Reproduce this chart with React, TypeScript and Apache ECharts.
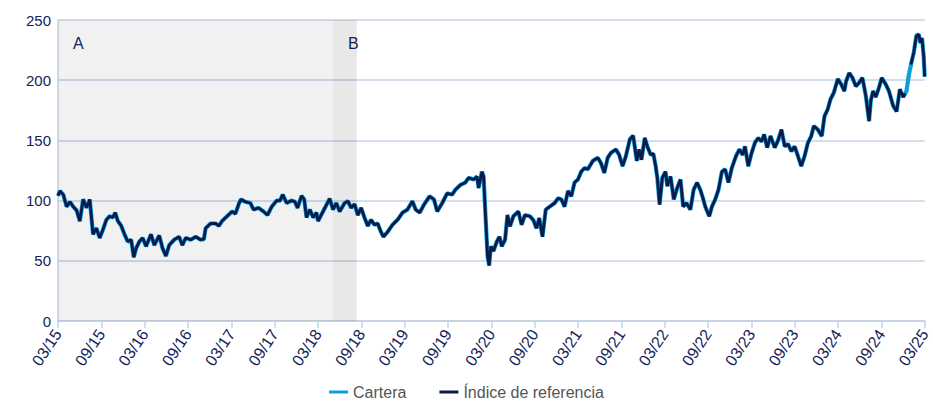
import React, { useEffect, useRef } from "react";
import * as echarts from "echarts";

// Months elapsed since March 2015
const months = [
  0.0, 0.27, 0.73, 1.2, 1.65, 2.1, 2.57, 3.02, 3.48, 3.95, 4.4, 4.71, 4.85, 5.32, 5.77, 6.23, 6.69, 7.15, 7.6, 7.93,
  8.29, 8.76, 9.21, 9.66, 10.13, 10.49, 10.82, 11.27, 11.73, 12.19, 12.88, 13.33, 14.02, 14.47, 14.94, 15.4, 16.08, 16.77, 17.22, 17.69,
  18.38, 19.07, 19.75, 20.2, 20.44, 21.13, 21.81, 22.27, 22.72, 23.41, 24.1, 24.56, 25.02, 25.33, 25.94, 26.63, 27.08, 27.77, 28.45, 29.0,
  29.6, 30.28, 30.75, 31.11, 31.66, 32.34, 32.81, 33.17, 33.72, 34.09, 34.41, 34.87, 35.33, 35.78, 36.01, 36.7, 37.62, 38.08, 38.53, 39.0,
  39.68, 40.14, 40.59, 41.06, 41.51, 41.97, 42.43, 42.89, 43.34, 43.81, 44.26, 44.72, 45.05, 45.64, 46.32, 47.01, 47.7, 48.38, 49.07, 49.53,
  50.08, 50.68, 51.45, 52.05, 52.51, 53.2, 53.88, 54.57, 55.02, 55.71, 56.4, 56.87, 57.55, 58.01, 58.24, 58.69, 58.93, 59.15, 59.48, 59.7,
  59.93, 60.3, 60.76, 61.13, 61.44, 61.9, 62.23, 62.58, 63.05, 63.74, 64.19, 64.65, 65.33, 65.8, 66.25, 66.63, 67.08, 67.53, 68.08, 68.77,
  69.24, 69.69, 70.14, 70.61, 71.07, 71.52, 71.99, 72.44, 72.89, 73.36, 74.05, 74.74, 75.19, 75.64, 76.11, 76.56, 77.25, 77.7, 78.17, 78.63,
  79.18, 79.63, 80.14, 80.45, 80.78, 81.24, 81.6, 82.06, 82.43, 82.75, 82.98, 83.3, 83.67, 84.12, 84.36, 84.81, 85.26, 85.73, 86.19, 86.56,
  87.01, 87.56, 88.01, 88.48, 88.93, 89.3, 89.62, 90.17, 90.54, 91.0, 91.45, 91.92, 92.37, 92.83, 93.29, 93.88, 94.34, 94.8, 95.12, 95.57,
  96.04, 96.49, 96.95, 97.41, 97.77, 98.19, 98.65, 99.24, 99.7, 100.17, 100.62, 101.07, 101.54, 101.99, 102.45, 102.91, 103.37, 103.83, 104.29, 104.65,
  105.2, 105.75, 106.12, 106.58, 106.95, 107.42, 107.97, 108.43, 108.88, 109.11, 109.55, 110.0, 110.47, 110.93, 111.38, 111.85, 112.3, 112.54, 112.85, 113.22,
  113.68, 114.05, 114.6, 115.05, 115.64, 116.11, 116.56, 117.02, 117.3, 117.48, 117.8, 118.1, 118.49, 118.85, 119.18, 119.41, 119.63, 119.86, 120.0,
];

const cartera = [
  104, 108, 105, 95, 99, 95, 92, 83, 101, 94, 101, 81, 72, 77, 69, 76, 84, 87, 86, 90,
  83, 79, 72, 66, 67.5, 53, 60.5, 66, 69, 62, 72, 63, 71, 60.5, 54, 63, 67.5, 70, 63, 69,
  67.5, 70, 67.5, 68, 77, 81, 81, 79, 83, 87, 91, 89, 97, 101, 99, 98, 92.5, 94, 91, 88,
  95, 100, 100, 105, 98, 100, 99, 94, 104, 101, 86, 92.5, 86, 90, 83, 91, 101.7, 92.5, 98, 91,
  98, 99.5, 94, 97, 88, 94, 86, 79, 84, 80, 81, 74, 70, 74, 80, 84, 90, 92.5, 99.5, 92.5,
  90, 96.7, 103.6, 101, 91, 98, 106, 105, 109, 113, 115, 119, 117.5, 120, 110.5, 124, 120, 92.5, 53.6, 46,
  62, 58, 66, 70, 62, 67.5, 88, 78.6, 87, 91, 80, 88, 87, 84, 77, 85.5, 70, 92.5, 95, 98,
  102, 101, 95, 108, 103.6, 115, 117.5, 124, 127, 126, 133, 135.6, 131, 123, 135.6, 139.7, 142.5, 138, 128.6, 137,
  151, 154, 133, 142.5, 134, 152, 145, 138, 139, 128.6, 119, 96.7, 119, 124, 112, 120, 101, 110.5, 117.5, 95,
  98, 92.5, 109, 115, 109, 102, 95, 87, 95, 101, 109, 124, 126, 115, 127, 137, 142.5, 138, 145, 128.6,
  139.7, 148, 152, 149, 155, 144, 153.6, 144, 150, 159, 145, 147, 141, 145, 137, 128.6, 137, 148, 153.6, 162,
  159, 153.6, 170, 176, 184, 189.7, 201, 196.7, 191, 199, 206, 202, 195, 198, 202, 187, 166, 183, 191, 186,
  194, 202, 196.7, 191, 178.6, 174, 192.5, 186, 189, 191, 204, 213, 223, 237, 238, 231, 235, 220, 203,
];

const indice = [
  104, 108, 105, 95, 99, 95, 92, 83, 101, 94, 101, 81, 72, 77, 69, 76, 84, 87, 86, 90,
  83, 79, 72, 66, 67.5, 53, 60.5, 66, 69, 62, 72, 63, 71, 60.5, 54, 63, 67.5, 70, 63, 69,
  67.5, 70, 67.5, 68, 77, 81, 81, 79, 83, 87, 91, 89, 97, 101, 99, 98, 92.5, 94, 91, 88,
  95, 100, 100, 105, 98, 100, 99, 94, 104, 101, 86, 92.5, 86, 90, 83, 91, 101.7, 92.5, 98, 91,
  98, 99.5, 94, 97, 88, 94, 86, 79, 84, 80, 81, 74, 70, 74, 80, 84, 90, 92.5, 99.5, 92.5,
  90, 96.7, 103.6, 101, 91, 98, 106, 105, 109, 113, 115, 119, 117.5, 120, 110.5, 124, 120, 92.5, 53.6, 46,
  62, 58, 66, 70, 62, 67.5, 88, 78.6, 87, 91, 80, 88, 87, 84, 77, 85.5, 70, 92.5, 95, 98,
  102, 101, 95, 108, 103.6, 115, 117.5, 124, 127, 126, 133, 135.6, 131, 123, 135.6, 139.7, 142.5, 138, 128.6, 137,
  151, 154, 133, 142.5, 134, 152, 145, 138, 139, 128.6, 119, 96.7, 119, 124, 112, 120, 101, 110.5, 117.5, 95,
  98, 92.5, 109, 115, 109, 102, 95, 87, 95, 101, 109, 124, 126, 115, 127, 137, 142.5, 138, 145, 128.6,
  139.7, 148, 152, 149, 155, 144, 153.6, 144, 150, 159, 145, 147, 141, 145, 137, 128.6, 137, 148, 153.6, 162,
  159, 153.6, 170, 176, 184, 189.7, 201, 196.7, 191, 199, 206, 202, 195, 198, 202, 187, 166, 183, 191, 186,
  194, 202, 196.7, 191, 178.6, 174, 192.5, 186, 189, null, null, 213, 223, 237, 238, 231, 235, 220, 203,
];

const seriesNames = ["Cartera", "Índice de referencia"];
const periodA = { label: "A", from: 0, to: 38.08 };
const periodB = { label: "B", from: 38.08, to: 41.37 };

const NAVY = "#13235a";
const AXIS = "#c6d3e6";

function monthLabel(v: number): string {
  const total = 2 + Math.round(v);
  const mm = (total % 12) + 1;
  const yy = 15 + Math.floor(total / 12);
  return `${String(mm).padStart(2, "0")}/${yy}`;
}

export default function App() {
  const ref = useRef<HTMLDivElement>(null);
  useEffect(() => {
    if (!ref.current) return;
    const chart = echarts.init(ref.current, undefined, { renderer: "svg" });
    const font = "'Liberation Sans', Arial, Helvetica, sans-serif";
    chart.setOption({
      animation: false,
      textStyle: { fontFamily: font },
      grid: { left: 58, right: 2, top: 20, bottom: 80, containLabel: false },
      legend: {
        data: seriesNames,
        left: "center",
        top: 384,
        padding: 0,
        icon: "rect",
        itemWidth: 19,
        itemHeight: 3,
        itemGap: 33,
        textStyle: { color: "#555", fontSize: 16, lineHeight: 16, fontFamily: font },
      },
      xAxis: {
        type: "value",
        min: 0,
        max: 120,
        interval: 6,
        axisLine: { show: true, lineStyle: { color: AXIS, width: 2 } },
        axisTick: { show: true, length: 7, lineStyle: { color: AXIS, width: 1.5 } },
        splitLine: { show: false },
        axisLabel: {
          rotate: 56,
          color: NAVY,
          fontSize: 16,
          margin: 10,
          formatter: (v: number) => monthLabel(v),
        },
      },
      yAxis: {
        type: "value",
        min: 0,
        max: 250,
        interval: 50,
        axisLine: { show: true, lineStyle: { color: AXIS, width: 1.5 } },
        axisTick: { show: false },
        splitLine: { show: true, lineStyle: { color: AXIS, width: 1.5 } },
        axisLabel: { color: NAVY, fontSize: 15, margin: 7 },
      },
      series: [
        {
          name: seriesNames[0],
          type: "line",
          data: months.map((m, i) => [m, cartera[i]]),
          showSymbol: false,
          symbol: "none",
          lineStyle: { color: "#0aa0dc", width: 4.2 },
          itemStyle: { color: "#0aa0dc" },
          z: 2,
          markArea: {
            silent: true,
            label: {
              show: true,
              position: "insideTopLeft",
              distance: 15,
              color: NAVY,
              fontSize: 16,
              fontFamily: font,
            },
            data: [
              [
                { name: periodA.label, xAxis: periodA.from, itemStyle: { color: "rgba(0,0,0,0.055)" } },
                { xAxis: periodA.to },
              ],
              [
                { name: periodB.label, xAxis: periodB.from, itemStyle: { color: "rgba(0,0,0,0.09)" } },
                { xAxis: periodB.to },
              ],
            ],
          },
        },
        {
          name: seriesNames[1],
          type: "line",
          data: months.map((m, i) => [m, indice[i]]),
          showSymbol: false,
          symbol: "none",
          connectNulls: false,
          lineStyle: { color: "#0a1a4a", width: 2.8 },
          itemStyle: { color: "#0a1a4a" },
          z: 3,
        },
      ],
    });
    return () => chart.dispose();
  }, []);
  return (
    <div
      ref={ref}
      style={{ position: "fixed", left: 0, top: 0, width: 933, height: 401, background: "#fff" }}
    />
  );
}
